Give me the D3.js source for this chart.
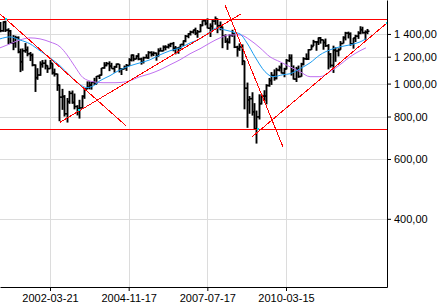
<html>
<head>
<script src="https://d3js.org/d3.v7.min.js"></script>
</head>

<style>
body { margin:0; background:#fff; }
text { font-family: "Liberation Sans", Arial, sans-serif; }
</style>

<body>
<script>

// monthly bars, Jul 2000 .. Dec 2012
var months = [
  "2000-07","2000-08","2000-09","2000-10","2000-11","2000-12",
  "2001-01","2001-02","2001-03","2001-04","2001-05","2001-06","2001-07","2001-08","2001-09","2001-10","2001-11","2001-12",
  "2002-01","2002-02","2002-03","2002-04","2002-05","2002-06","2002-07","2002-08","2002-09","2002-10","2002-11","2002-12",
  "2003-01","2003-02","2003-03","2003-04","2003-05","2003-06","2003-07","2003-08","2003-09","2003-10","2003-11","2003-12",
  "2004-01","2004-02","2004-03","2004-04","2004-05","2004-06","2004-07","2004-08","2004-09","2004-10","2004-11","2004-12",
  "2005-01","2005-02","2005-03","2005-04","2005-05","2005-06","2005-07","2005-08","2005-09","2005-10","2005-11","2005-12",
  "2006-01","2006-02","2006-03","2006-04","2006-05","2006-06","2006-07","2006-08","2006-09","2006-10","2006-11","2006-12",
  "2007-01","2007-02","2007-03","2007-04","2007-05","2007-06","2007-07","2007-08","2007-09","2007-10","2007-11","2007-12",
  "2008-01","2008-02","2008-03","2008-04","2008-05","2008-06","2008-07","2008-08","2008-09","2008-10","2008-11","2008-12",
  "2009-01","2009-02","2009-03","2009-04","2009-05","2009-06","2009-07","2009-08","2009-09","2009-10","2009-11","2009-12",
  "2010-01","2010-02","2010-03","2010-04","2010-05","2010-06","2010-07","2010-08","2010-09","2010-10","2010-11","2010-12",
  "2011-01","2011-02","2011-03","2011-04","2011-05","2011-06","2011-07","2011-08","2011-09","2011-10","2011-11","2011-12",
  "2012-01","2012-02","2012-03","2012-04","2012-05","2012-06","2012-07","2012-08","2012-09","2012-10","2012-11","2012-12"
];

var opens = [
  1454,1431,1518,1437,1429,1315,
  1320,1366,1240,1160,1249,1256,1224,1211,1134,1041,1060,1139,
  1148,1130,1107,1147,1077,1067,990,912,916,815,885,936,
  880,856,841,848,917,964,975,990,1008,996,1051,1058,
  1112,1131,1145,1126,1107,1121,1141,1102,1104,1115,1130,1174,
  1212,1181,1204,1181,1157,1192,1191,1234,1220,1229,1207,1249,
  1248,1280,1281,1295,1311,1270,1270,1277,1304,1336,1378,1401,
  1418,1438,1406,1421,1482,1531,1503,1455,1474,1527,1549,1481,
  1468,1379,1331,1323,1386,1400,1280,1267,1283,1166,969,896,
  903,826,735,798,873,919,919,987,1021,1057,1036,1096,
  1115,1074,1104,1169,1187,1089,1031,1102,1049,1141,1183,1181,
  1258,1286,1327,1326,1364,1345,1321,1292,1219,1131,1253,1247,
  1258,1312,1366,1408,1398,1310,1362,1379,1407,1441,1412,1416
];

var highs = [
  1517,1525,1531,1455,1438,1389,
  1383,1377,1267,1269,1316,1286,1239,1226,1139,1110,1163,1173,
  1176,1131,1174,1147,1107,1070,994,965,925,907,952,954,
  935,864,896,924,965,1015,1015,1011,1040,1053,1063,1112,
  1156,1158,1163,1151,1128,1146,1141,1109,1130,1142,1188,1218,
  1218,1212,1229,1192,1200,1220,1246,1245,1243,1234,1270,1276,
  1295,1297,1310,1318,1326,1290,1280,1306,1340,1390,1407,1431,
  1441,1461,1438,1498,1535,1541,1556,1504,1539,1576,1553,1523,
  1471,1396,1360,1397,1440,1405,1292,1313,1304,1167,1007,919,
  943,876,833,930,930,956,996,1039,1081,1101,1113,1130,
  1150,1113,1181,1220,1219,1131,1120,1130,1151,1196,1227,1263,
  1303,1345,1333,1367,1371,1346,1357,1307,1230,1293,1278,1270,
  1334,1378,1420,1422,1415,1363,1392,1426,1475,1470,1434,1448
];

var lows = [
  1416,1421,1419,1305,1312,1254,
  1275,1228,1081,1091,1232,1203,1165,1124,945,1026,1054,1114,
  1101,1075,1106,1063,1049,952,775,837,800,768,872,872,
  840,806,789,847,902,963,962,960,990,996,1032,1056,
  1106,1124,1088,1107,1077,1113,1078,1060,1102,1090,1127,1162,
  1163,1180,1171,1137,1146,1188,1183,1201,1205,1168,1201,1246,
  1245,1253,1268,1280,1245,1219,1224,1261,1290,1323,1360,1385,
  1403,1389,1364,1416,1476,1484,1454,1371,1439,1490,1407,1435,
  1271,1317,1257,1312,1373,1272,1200,1248,1133,840,741,815,
  805,735,666,784,868,889,869,979,991,1020,1029,1086,
  1071,1044,1101,1157,1056,1028,1011,1040,1048,1131,1173,1174,
  1257,1290,1249,1299,1311,1258,1282,1101,1114,1075,1159,1202,
  1258,1312,1340,1358,1292,1267,1325,1354,1397,1403,1343,1398
];

var closes = [
  1431,1518,1437,1429,1315,1320,
  1366,1240,1160,1249,1256,1224,1211,1134,1041,1060,1139,1148,
  1130,1107,1147,1077,1067,990,912,916,815,885,936,880,
  856,841,848,917,964,975,990,1008,996,1051,1058,1112,
  1131,1145,1126,1107,1121,1141,1102,1104,1115,1130,1174,1212,
  1181,1204,1181,1157,1192,1191,1234,1220,1229,1207,1249,1248,
  1280,1281,1295,1311,1270,1270,1277,1304,1336,1378,1401,1418,
  1438,1406,1421,1482,1531,1503,1455,1474,1527,1549,1481,1468,
  1379,1331,1323,1386,1400,1280,1267,1283,1166,969,896,903,
  826,735,798,873,919,919,987,1021,1057,1036,1096,1115,
  1074,1104,1169,1187,1089,1031,1102,1049,1141,1183,1181,1258,
  1286,1327,1326,1364,1345,1321,1292,1219,1131,1253,1247,1258,
  1312,1366,1408,1398,1310,1362,1379,1407,1441,1412,1416,1426
];

// fast average (blue)
var blueDates = ["2000-07-11","2000-11-12","2001-03-15","2001-07-17","2001-11-17","2002-03-21","2002-07-23",
  "2002-11-23","2003-03-27","2003-06-21","2003-08-22","2003-11-29","2004-03-31","2004-08-02","2004-12-03",
  "2005-04-06","2005-08-08","2005-12-09","2006-04-12","2006-08-13","2006-12-15","2007-04-17","2007-08-19",
  "2007-11-13","2008-02-20","2008-07-18","2008-08-24","2008-11-18","2009-02-25","2009-06-29","2009-10-05",
  "2010-02-06","2010-05-03","2010-09-04","2011-01-06","2011-05-09","2011-09-10","2012-01-11","2012-05-14",
  "2012-09-14","2012-11-27"];
var blueValues = [1354,1372,1344,1309,1249,1191,1128,
  1055,993,973,980,1020,1055,1098,1128,
  1151,1175,1215,1249,1274,1317,1354,1419,
  1458,1438,1409,1400,1317,1199,1084,1048,
  1062,1069,1106,1151,1215,1257,1283,1300,
  1326,1354];

// slow average (violet)
var violetDates = ["2000-07-11","2000-11-12","2001-03-15","2001-07-17","2001-11-17","2002-03-21","2002-07-23",
  "2002-10-17","2003-01-24","2003-05-03","2003-09-03","2004-01-05","2004-06-01","2004-10-27","2005-02-03",
  "2005-04-06","2005-08-08","2005-12-09","2006-04-12","2006-08-13","2006-12-15","2007-04-17","2007-08-19",
  "2007-12-20","2008-04-22","2008-08-24","2008-12-25","2009-04-28","2009-08-29","2009-12-31","2010-05-03",
  "2010-09-04","2011-01-06","2011-05-09","2011-09-10","2012-01-11","2012-05-14","2012-09-14","2012-11-27"];
var violetValues = [1274,1309,1344,1363,1354,1326,1283,
  1215,1121,1041,1013,1006,1006,1013,1034,
  1048,1069,1098,1136,1175,1224,1266,1317,
  1363,1391,1391,1344,1274,1199,1159,1121,
  1084,1048,1048,1084,1136,1199,1249,1274];

// trend lines: [date1, value1, date2, value2]
var trendLines = [
  ["2000-07-11", 1603, "2004-10-16", 751],
  ["2002-07-23", 769, "2008-09-05", 1603],
  ["2008-02-20", 1704, "2010-02-06", 651],
  ["2009-01-19", 697, "2013-08-14", 1508]
];
var levels = [1550, 736];
var markerDates = ["2000-09-18", "2003-03-14", "2009-04-03", "2013-08-14"];
var markerValues = [1550, 837, 736, 1508];

var xTicks = ["2002-03-21", "2004-11-17", "2007-07-17", "2010-03-15"];
var yTicks = [400, 600, 800, 1000, 1200, 1400];

var width = 439;
var height = 304;
var w = 387;
var h = 287;

var parseDay = d3.timeParse("%Y-%m-%d");
var parseMonth = d3.timeParse("%Y-%m");

var x = d3.scaleTime()
    .domain([parseDay("2000-07-11"), parseDay("2013-08-14")])
    .range([0, w]);

var y = d3.scaleLog()
    .domain([1762, 252])
    .range([0, h]);

var loc = d3.formatLocale({decimal: ",", thousands: " ", grouping: [3], currency: ["", ""]});
var fmt = loc.format(",.2f");

var svg = d3.select("body").append("svg")
    .attr("width", width)
    .attr("height", height);

// grid
svg.append("g").selectAll("line")
  .data(yTicks)
  .enter().append("line")
    .attr("x1", 0).attr("x2", w)
    .attr("y1", function(d){ return Math.round(y(d)) + 0.5; })
    .attr("y2", function(d){ return Math.round(y(d)) + 0.5; })
    .attr("stroke", "#dcdcdc");

svg.append("g").selectAll("line")
  .data(xTicks)
  .enter().append("line")
    .attr("y1", 0).attr("y2", h)
    .attr("x1", function(d){ return Math.round(x(parseDay(d))) + 0.5; })
    .attr("x2", function(d){ return Math.round(x(parseDay(d))) + 0.5; })
    .attr("stroke", "#dcdcdc");

// bars
var bars = months.map(function(m, i){
  return {date: d3.timeDay.offset(parseMonth(m), 14), o: opens[i], hi: highs[i], lo: lows[i], c: closes[i]};
});

var barG = svg.append("g").attr("stroke", "#000");
bars.forEach(function(d){
  var bx = Math.round(x(d.date)) + 0.5;
  barG.append("line")
    .attr("x1", bx).attr("x2", bx)
    .attr("y1", y(d.hi)).attr("y2", y(d.lo))
    .attr("stroke-width", 1.9);
  barG.append("line")
    .attr("x1", bx - 2).attr("x2", bx)
    .attr("y1", y(d.o)).attr("y2", y(d.o))
    .attr("stroke-width", 1.5);
  barG.append("line")
    .attr("x1", bx).attr("x2", bx + 2)
    .attr("y1", y(d.c)).attr("y2", y(d.c))
    .attr("stroke-width", 1.5);
});

// averages
var line = d3.line()
    .x(function(d){ return x(d[0]); })
    .y(function(d){ return y(d[1]); })
    .curve(d3.curveMonotoneX);

svg.append("path")
    .datum(violetDates.map(function(d, i){ return [parseDay(d), violetValues[i]]; }))
    .attr("d", line)
    .attr("fill", "none")
    .attr("stroke", "#c070f0")
    .attr("stroke-width", 1);

svg.append("path")
    .datum(blueDates.map(function(d, i){ return [parseDay(d), blueValues[i]]; }))
    .attr("d", line)
    .attr("fill", "none")
    .attr("stroke", "#1a9cf0")
    .attr("stroke-width", 1);

// support / resistance
svg.append("g").selectAll("line")
  .data(levels)
  .enter().append("line")
    .attr("x1", 0).attr("x2", w)
    .attr("y1", function(d){ return Math.round(y(d)) + 0.5; })
    .attr("y2", function(d){ return Math.round(y(d)) + 0.5; })
    .attr("stroke", "#ff0000");

svg.append("g").selectAll("line")
  .data(trendLines)
  .enter().append("line")
    .attr("x1", function(d){ return x(parseDay(d[0])); })
    .attr("y1", function(d){ return y(d[1]); })
    .attr("x2", function(d){ return x(parseDay(d[2])); })
    .attr("y2", function(d){ return y(d[3]); })
    .attr("stroke", "#ff0000")
    .attr("stroke-width", 1)
    .attr("shape-rendering", "crispEdges");

svg.append("g").selectAll("rect")
  .data(markerDates)
  .enter().append("rect")
    .attr("x", function(d){ return Math.round(x(parseDay(d))) - 1; })
    .attr("y", function(d, i){ return Math.round(y(markerValues[i])) - 1; })
    .attr("width", 2).attr("height", 2)
    .attr("fill", "#00d8e8");

// axes
var xAxis = d3.axisBottom(x)
    .tickValues(xTicks.map(parseDay))
    .tickFormat(d3.timeFormat("%Y-%m-%d"))
    .tickSize(4)
    .tickSizeOuter(0);

var yAxis = d3.axisRight(y)
    .tickValues(yTicks)
    .tickFormat(fmt)
    .tickSize(4)
    .tickSizeOuter(0);

svg.append("g")
    .attr("transform", "translate(0," + h + ")")
    .call(xAxis)
    .attr("font-size", 11)
    .attr("font-family", "Liberation Sans, Arial, sans-serif");

svg.append("g")
    .attr("transform", "translate(" + w + ",0)")
    .call(yAxis)
    .attr("font-size", 11)
    .attr("font-family", "Liberation Sans, Arial, sans-serif");

</script>
</body>
</html>
